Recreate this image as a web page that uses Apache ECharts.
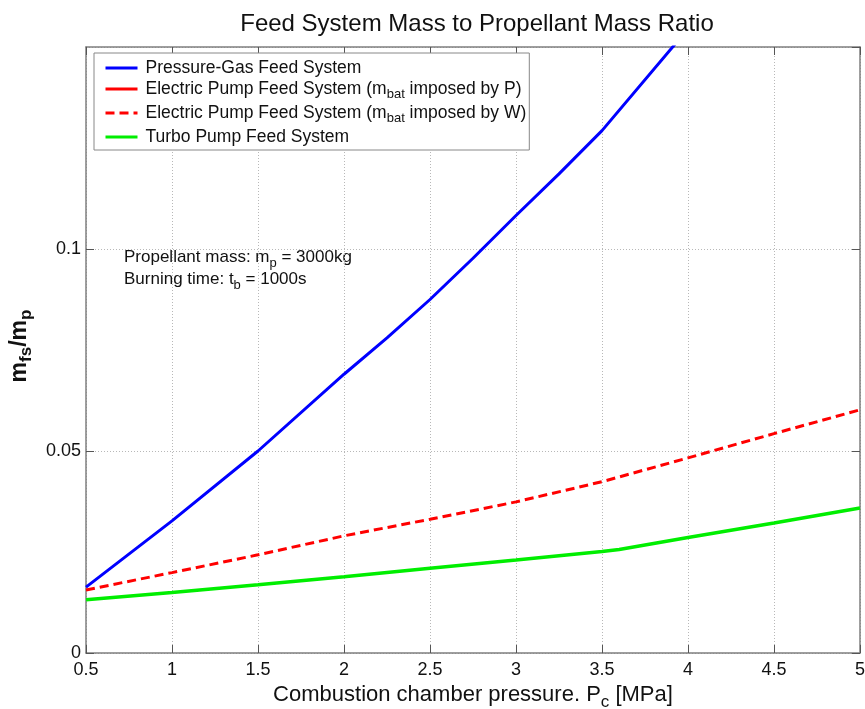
<!DOCTYPE html>
<html><head><meta charset="utf-8">
<script src="https://cdn.jsdelivr.net/npm/echarts@6/dist/echarts.min.js"></script>
<style>html,body{margin:0;padding:0;background:#fff}#c{width:865px;height:709px}</style>
</head><body><div id="c"></div>
<script>
// ---- data ----
var seriesNames = [
  'Pressure-Gas Feed System',
  'Electric Pump Feed System (m_bat imposed by P)',
  'Electric Pump Feed System (m_bat imposed by W)',
  'Turbo Pump Feed System'
];
var xTicks = [0.5, 1, 1.5, 2, 2.5, 3, 3.5, 4, 4.5, 5];
var pressureGasX = [0.5, 1, 1.5, 2, 2.25, 2.5, 2.75, 3, 3.25, 3.5, 4];
var pressureGasY = [0.0163, 0.0327, 0.0500, 0.0690, 0.0780, 0.0875, 0.0977, 0.1083, 0.1186, 0.1293, 0.1545];
var electricPX = [];
var electricPY = [];
var electricWX = [0.5, 1, 1.5, 2, 2.5, 3, 3.5, 4, 4.5, 5];
var electricWY = [0.0156, 0.0199, 0.0243, 0.0290, 0.0331, 0.0374, 0.0424, 0.0483, 0.0543, 0.0602];
var turboX = [0.5, 1, 1.5, 2, 2.5, 3, 3.5, 3.6, 4, 4.5, 5];
var turboY = [0.0132, 0.0150, 0.0169, 0.0189, 0.0210, 0.0230, 0.0251, 0.0256, 0.0286, 0.0322, 0.0359];
var yTicks = [0, 0.05, 0.1];

function pairs(xs, ys){ return xs.map(function(x,i){ return [x, ys[i]]; }); }

var FONT = 'Liberation Sans, Arial, sans-serif';
var chart = echarts.init(document.getElementById('c'));
var frame = '#7f7f7f';
var gridDot = {show:true, lineStyle:{color:'#b8b8b8', type:[1,2], width:1}};

function legendFmt(name){
  var m = name.match(/^(.*\(m)_bat( .*)$/);
  if (m) return '{g| }{t|' + m[1] + '}{s|bat}{t|' + m[2] + '}';
  return '{g| }{t|' + name + '}';
}

chart.setOption({
  animation:false,
  backgroundColor:'#fff',
  title:{text:'Feed System Mass to Propellant Mass Ratio', left:472, textAlign:'center', top:7,
    textStyle:{fontFamily:FONT, fontSize:24, fontWeight:'normal', color:'#111'}},
  grid:{left:86, right:5, top:47, bottom:56, containLabel:false, outerBoundsMode:'none'},
  legend:{
    orient:'vertical', left:94, top:53, data:seriesNames,
    backgroundColor:'#fff', borderColor:'#888', borderWidth:1,
    padding:[6,3,4,10], itemWidth:32, itemHeight:14, itemGap:3,
    formatter:legendFmt,
    itemStyle:{opacity:0},
    lineStyle:{width:3},
    textStyle:{fontFamily:FONT, fontSize:17.5, color:'#111',
      rich:{g:{width:3, fontSize:17.5},
            t:{fontFamily:FONT, fontSize:17.5, color:'#111'},
            s:{fontFamily:FONT, fontSize:13, color:'#111', padding:[11,0,0,0]}}}
  },
  xAxis:[{
    type:'value', min:0.5, max:5, interval:0.5,
    name:'{t|Combustion chamber pressure. P}{s|c}{t| [MPa]}',
    nameLocation:'middle', nameGap:26,
    nameTextStyle:{fontFamily:FONT, fontSize:22, color:'#111',
      rich:{t:{fontFamily:FONT, fontSize:22, color:'#111'}, s:{fontFamily:FONT, fontSize:17, color:'#111', padding:[14,0,0,0]}}},
    axisLine:{show:true, lineStyle:{color:frame, width:1.5}},
    axisTick:{show:true, inside:true, length:8, lineStyle:{color:'#555'}},
    axisLabel:{fontFamily:FONT, fontSize:18, color:'#111', margin:8},
    splitLine:gridDot
  },{
    type:'value', min:0.5, max:5, interval:0.5, position:'top',
    axisLine:{show:true, onZero:false, lineStyle:{color:frame, width:1.5}},
    axisTick:{show:true, inside:true, length:8, lineStyle:{color:'#555'}},
    axisLabel:{show:false}, splitLine:{show:false}
  }],
  yAxis:[{
    type:'value', min:0, max:0.15, interval:0.05,
    name:'{t|m}{s|fs}{t|/m}{s|p}',
    nameLocation:'middle', nameGap:35, nameRotate:90,
    nameTextStyle:{fontFamily:FONT, fontSize:23, fontWeight:'bold', color:'#111', padding:[0,0,0,8],
      rich:{t:{fontFamily:FONT, fontSize:23, fontWeight:'bold', color:'#111'}, s:{fontFamily:FONT, fontSize:17, fontWeight:'bold', color:'#111', padding:[14,0,0,0]}}},
    axisLine:{show:true, lineStyle:{color:frame, width:1.5}},
    axisTick:{show:true, inside:true, length:8, lineStyle:{color:'#555'}},
    axisLabel:{fontFamily:FONT, fontSize:18, color:'#111', margin:5, showMaxLabel:false,
      formatter:function(v){ return yTicks.indexOf(+v.toFixed(4))>=0 ? String(+v.toFixed(4)) : ''; }},
    splitLine:gridDot
  },{
    type:'value', min:0, max:0.15, interval:0.05, position:'right',
    axisLine:{show:true, onZero:false, lineStyle:{color:frame, width:1.5}},
    axisTick:{show:true, inside:true, length:8, lineStyle:{color:'#555'}},
    axisLabel:{show:false}, splitLine:{show:false}
  }],
  graphic:[
    {type:'text', left:124, top:249, style:{rich:{t:{fontFamily:FONT,fontSize:17,fill:'#111'}, s:{fontFamily:FONT,fontSize:13,fill:'#111',padding:[11,0,0,0]}},
      text:'{t|Propellant mass: m}{s|p}{t| = 3000kg}'}},
    {type:'text', left:124, top:271, style:{rich:{t:{fontFamily:FONT,fontSize:17,fill:'#111'}, s:{fontFamily:FONT,fontSize:13,fill:'#111',padding:[11,0,0,0]}},
      text:'{t|Burning time: t}{s|b}{t| = 1000s}'}}
  ],
  series:[
    {name:seriesNames[0], type:'line', data:pairs(pressureGasX, pressureGasY), symbol:'none', clip:true,
      lineStyle:{color:'#0000ff', width:3}, itemStyle:{color:'#0000ff'}},
    {name:seriesNames[1], type:'line', data:pairs(electricPX, electricPY), symbol:'none', clip:true,
      lineStyle:{color:'#ff0000', width:3}, itemStyle:{color:'#ff0000'}},
    {name:seriesNames[2], type:'line', data:pairs(electricWX, electricWY), symbol:'none', clip:true,
      lineStyle:{color:'#ff0000', width:3, type:[9,5]}, itemStyle:{color:'#ff0000'}},
    {name:seriesNames[3], type:'line', data:pairs(turboX, turboY), symbol:'none', clip:true,
      lineStyle:{color:'#00ee00', width:3.5}, itemStyle:{color:'#00ee00'}}
  ]
});
</script></body></html>
